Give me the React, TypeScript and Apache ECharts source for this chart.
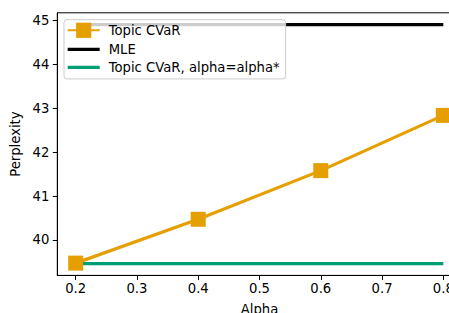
import React, { useEffect, useRef } from "react";
import * as echarts from "echarts";

const alphas = [0.2, 0.4, 0.6, 0.8];
const topicCVaR = [39.47, 40.47, 41.58, 42.84];
const mle = [44.91, 44.91, 44.91, 44.91];
const topicCVaRStar = [39.46, 39.46, 39.46, 39.46];
const xTicks = [0.2, 0.3, 0.4, 0.5, 0.6, 0.7, 0.8];
const yTicks = [40, 41, 42, 43, 44, 45];
const seriesNames = ["Topic CVaR", "MLE", "Topic CVaR, alpha=alpha*"];

const FONT = "DejaVu Sans";
const FS = 13.2;
const LINE_ICON = "path://M0,0 L32,0 L32,3.2 L0,3.2 Z";

export default function App() {
  const ref = useRef<HTMLDivElement>(null);
  useEffect(() => {
    if (!ref.current) return;
    const chart = echarts.init(ref.current, null, { renderer: "svg" });
    const pair = (ys: number[]) => alphas.map((a, i) => [a, ys[i]]);
    chart.setOption({
      animation: false,
      backgroundColor: "#fff",
      grid: {
        left: 57.3,
        top: 12.8,
        width: 404.4,
        height: 262.6,
        show: true,
        borderColor: "#000",
        borderWidth: 1,
        backgroundColor: "transparent",
      },
      legend: {
        orient: "vertical",
        left: 64,
        top: 19.7,
        padding: [3, 6, 5, 2.7],
        itemWidth: 32,
        itemHeight: 19,
        itemGap: 5,
        backgroundColor: "rgba(255,255,255,0.8)",
        borderColor: "#cccccc",
        borderWidth: 1,
        borderRadius: 3,
        textStyle: { fontFamily: FONT, fontSize: FS, color: "#000", padding: [0, 0, 0, 4] },
        data: [
          { name: seriesNames[0] },
          { name: seriesNames[1], icon: LINE_ICON },
          { name: seriesNames[2], icon: LINE_ICON },
        ],
      },
      xAxis: {
        type: "value",
        min: 0.17,
        max: 0.83,
        name: "Alpha",
        nameLocation: "middle",
        nameGap: 28,
        nameTextStyle: { fontFamily: FONT, fontSize: FS, color: "#000" },
        axisLine: { show: true, onZero: false, lineStyle: { color: "#000", width: 1 } },
        axisTick: { show: true, length: 4.5, lineStyle: { color: "#000", width: 1 }, customValues: xTicks },
        axisLabel: {
          margin: 7,
          fontFamily: FONT,
          fontSize: FS,
          color: "#000",
          customValues: xTicks,
          formatter: (v: number) => v.toFixed(1),
        },
        splitLine: { show: false },
      },
      yAxis: {
        type: "value",
        min: 39.19,
        max: 45.18,
        name: "Perplexity",
        nameLocation: "middle",
        nameGap: 24,
        nameTextStyle: { fontFamily: FONT, fontSize: FS, color: "#000" },
        axisLine: { show: true, onZero: false, lineStyle: { color: "#000", width: 1 } },
        axisTick: { show: true, length: 4.5, lineStyle: { color: "#000", width: 1 }, customValues: yTicks },
        axisLabel: {
          margin: 8,
          fontFamily: FONT,
          fontSize: FS,
          color: "#000",
          customValues: yTicks,
          formatter: (v: number) => String(Math.round(v)),
        },
        splitLine: { show: false },
      },
      series: [
        {
          name: seriesNames[0],
          type: "line",
          data: pair(topicCVaR),
          symbol: "rect",
          symbolSize: 15,
          clip: false,
          itemStyle: { color: "#E69F00" },
          lineStyle: { color: "#E69F00", width: 3.2 },
        },
        {
          name: seriesNames[1],
          type: "line",
          data: pair(mle),
          symbol: "none",
          itemStyle: { color: "#000000" },
          lineStyle: { color: "#000000", width: 3.2 },
        },
        {
          name: seriesNames[2],
          type: "line",
          data: pair(topicCVaRStar),
          symbol: "none",
          itemStyle: { color: "#009E73" },
          lineStyle: { color: "#009E73", width: 3.2 },
        },
      ],
    });
    return () => chart.dispose();
  }, []);
  return (
    <div
      style={{
        position: "fixed",
        left: 0,
        top: 0,
        width: 449,
        height: 313,
        overflow: "hidden",
        background: "#fff",
      }}
    >
      <div ref={ref} style={{ width: 520, height: 340 }} />
    </div>
  );
}
